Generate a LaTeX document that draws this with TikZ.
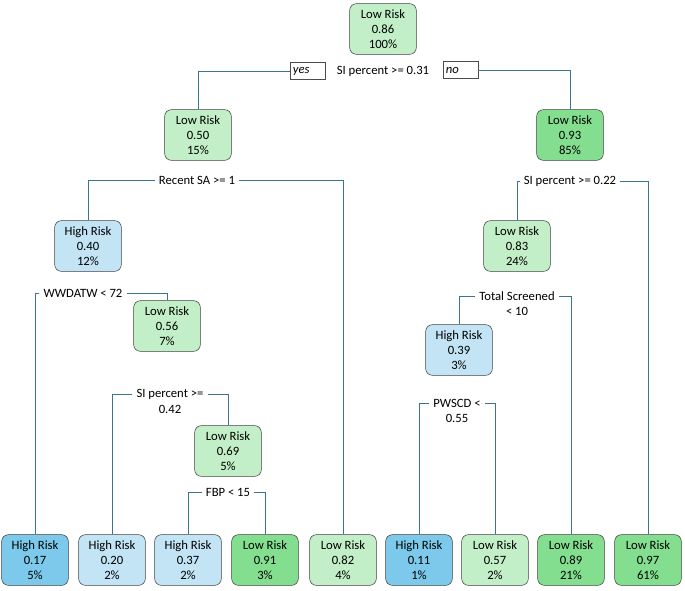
\documentclass[tikz,border=0pt]{standalone}
\usepackage{fontspec}
\setmainfont{Carlito}
\begin{document}
\begin{tikzpicture}[x=0.75pt,y=-0.75pt,
  box/.style={draw=black!75,rounded corners=5pt,minimum width=50pt,minimum height=38pt,align=center,font=\fontsize{9.5}{11}\selectfont,inner sep=1pt},
  lg/.style={box,fill=lgreen},dg/.style={box,fill=dgreen},lb/.style={box,fill=lblue},db/.style={box,fill=dblue},
  lab/.style={font=\fontsize{9.5}{11}\selectfont,inner sep=3pt},
  sec/.style={font=\fontsize{9.5}{11}\selectfont,inner sep=0pt},
  yn/.style={draw=black!70,font=\itshape\fontsize{9.5}{11}\selectfont,minimum width=26pt,minimum height=13pt,inner sep=1pt,anchor=west,text width=22pt},
  ln/.style={draw=lc,line width=0.7pt}]
\definecolor{lgreen}{HTML}{C2EFC8}
\definecolor{dgreen}{HTML}{83DF8F}
\definecolor{lblue}{HTML}{C2E4F5}
\definecolor{dblue}{HTML}{7CC9EB}
\definecolor{lc}{HTML}{3A7590}
\useasboundingbox (0,0) rectangle (685,590);
% internal nodes
\node[lg] (r) at (383,29) {Low Risk\\0.86\\100\%};
\node[lg] (a) at (198,135) {Low Risk\\0.50\\15\%};
\node[dg] (b) at (570,135) {Low Risk\\0.93\\85\%};
\node[lb] (c) at (88,246) {High Risk\\0.40\\12\%};
\node[lg] (d) at (167,326) {Low Risk\\0.56\\7\%};
\node[lg] (e) at (228,451) {Low Risk\\0.69\\5\%};
\node[lg] (f) at (517,246) {Low Risk\\0.83\\24\%};
\node[lb] (g) at (459,350) {High Risk\\0.39\\3\%};
% leaves
\node[db] (l1) at (35,560) {High Risk\\0.17\\5\%};
\node[lb] (l2) at (112,560) {High Risk\\0.20\\2\%};
\node[lb] (l3) at (188,560) {High Risk\\0.37\\2\%};
\node[dg] (l4) at (265,560) {Low Risk\\0.91\\3\%};
\node[lg] (l5) at (343,560) {Low Risk\\0.82\\4\%};
\node[db] (l6) at (419,560) {High Risk\\0.11\\1\%};
\node[lg] (l7) at (495,560) {Low Risk\\0.57\\2\%};
\node[dg] (l8) at (571,560) {Low Risk\\0.89\\21\%};
\node[dg] (l9) at (648,560) {Low Risk\\0.97\\61\%};
% split labels
\node[lab] (s1) at (383,71) {SI percent >= 0.31};
\node[yn] (yes) at (290,71) {yes};
\node[yn] (no) at (443,70) {no};
\draw[ln] (yes.west) -| (a.north);
\draw[ln] (no.east) -| (b.north);
\node[lab] (s2) at (197,180) {Recent SA >= 1};
\draw[ln] (s2.west) -| (c.north);
\draw[ln] (s2.east) -| (l5.north);
\node[lab] (s3) at (83,293) {WWDATW < 72};
\draw[ln] (s3.west) -| (l1.north);
\draw[ln] (s3.east) -| (d.north);
\node[lab] (s4) at (170,394) {SI percent >=};
\node[sec] (s4b) at (170,409) {0.42};
\draw[ln] (s4.west) -| (l2.north);
\draw[ln] (s4.east) -| (e.north);
\node[lab] (s5) at (228,492) {FBP < 15};
\draw[ln] (s5.west) -| (l3.north);
\draw[ln] (s5.east) -| (l4.north);
\node[lab] (s6) at (570,181) {SI percent >= 0.22};
\draw[ln] (s6.west) -| (f.north);
\draw[ln] (s6.east) -| (l9.north);
\node[lab] (s7) at (517,296) {Total Screened};
\node[sec] (s7b) at (517,311) {< 10};
\draw[ln] (s7.west) -| (g.north);
\draw[ln] (s7.east) -| (l8.north);
\node[lab] (s8) at (457,403) {PWSCD <};
\node[sec] (s8b) at (457,418) {0.55};
\draw[ln] (s8.west) -| (l6.north);
\draw[ln] (s8.east) -| (l7.north);
\end{tikzpicture}
\end{document}
